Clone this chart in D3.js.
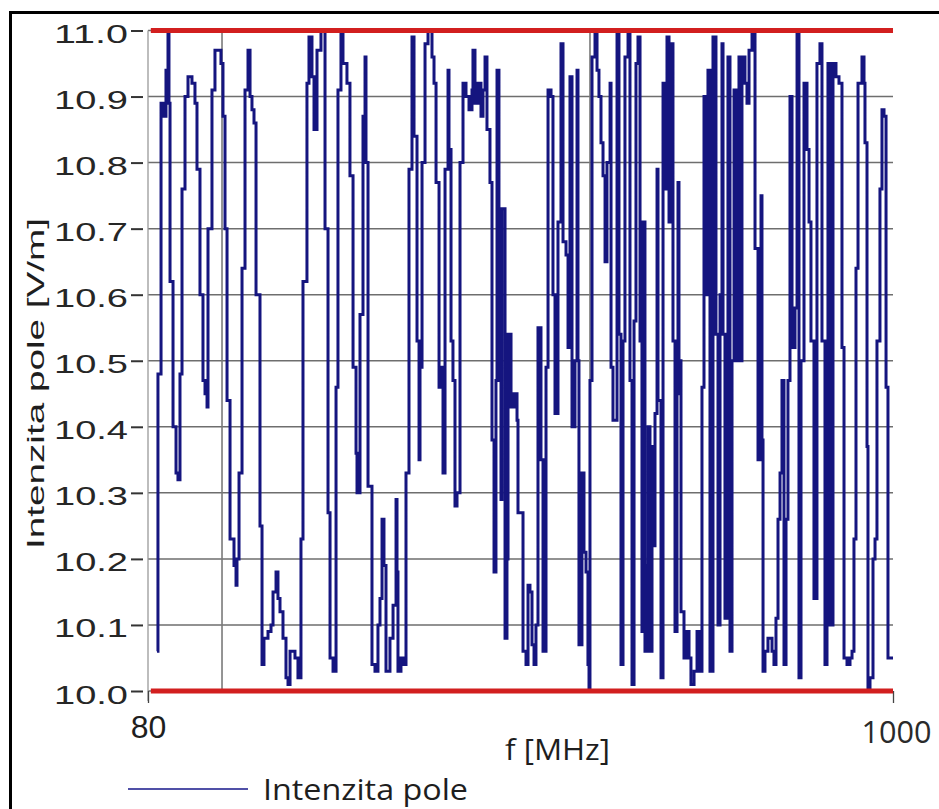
<!DOCTYPE html>
<html><head><meta charset="utf-8">
<script src="https://cdn.jsdelivr.net/npm/d3@7/dist/d3.min.js"></script>
<style>body{margin:0;background:#fff}svg{display:block}</style>
</head><body>
<svg id="c" width="939" height="809"></svg>
<script>
// frequency [MHz]
const freqs = [
91.1,92.3,96.1,99.8,102.2,104.7,105.9,107.2,110.9,114.6,117.0,119.5,122.0,125.7,129.4,134.3,138.0,140.5,144.2,147.9,
150.4,152.9,154.1,159.0,162.7,170.1,172.6,175.1,177.6,181.3,186.2,188.7,189.9,192.4,196.1,199.8,203.5,206.0,208.4,210.9,
213.4,218.3,220.8,223.2,228.2,231.9,234.4,238.1,240.5,243.0,246.7,250.4,252.9,255.4,261.5,265.2,268.9,271.4,276.3,278.8,
282.5,285.0,288.7,293.6,298.6,302.3,304.8,308.5,312.2,314.6,318.3,320.8,325.7,329.4,333.2,336.9,338.1,341.8,345.5,348.0,
349.2,351.7,356.6,360.3,364.0,366.5,369.0,371.4,373.9,378.8,382.6,386.3,387.5,388.7,392.4,394.9,398.6,402.3,406.0,408.5,
412.2,414.7,415.9,418.4,422.1,425.8,430.7,433.2,435.7,439.4,441.8,444.3,446.8,450.5,451.7,454.2,456.6,459.1,461.6,465.3,
469.0,472.7,476.4,480.1,481.3,483.8,487.5,491.2,493.7,496.2,498.6,502.3,504.8,507.3,509.7,511.0,513.4,515.9,517.1,520.9,
523.3,524.6,528.3,532.0,535.7,536.9,543.1,546.8,549.3,551.7,554.2,556.7,559.1,561.6,565.3,567.8,571.5,574.0,577.7,580.1,
582.6,586.3,590.0,592.5,596.2,598.7,601.1,603.6,607.3,609.8,611.0,612.2,615.9,618.4,620.9,623.3,624.6,625.8,628.3,632.0,
634.5,636.9,639.4,641.9,644.4,646.8,650.6,651.8,654.2,659.2,661.6,664.1,666.6,669.0,672.8,675.2,677.7,680.2,682.6,685.1,
687.6,690.0,691.3,693.7,696.2,697.5,699.9,702.4,704.9,706.1,708.6,709.8,713.5,716.0,718.4,720.9,723.4,725.9,728.3,730.8,
733.3,734.5,735.7,738.2,741.9,745.6,748.1,750.5,754.3,758.0,760.4,764.1,766.6,769.1,771.5,774.0,777.7,781.4,783.9,786.4,
788.8,790.1,792.5,795.0,796.2,798.7,801.2,803.7,807.4,809.8,812.3,813.5,817.2,819.7,822.2,825.9,829.6,833.3,835.8,837.0,
838.2,839.5,841.9,845.6,850.6,853.0,855.5,858.0,860.5,862.9,865.4,867.9,870.3,872.8,875.3,879.0,881.5,883.9,886.4,890.1,
893.8,896.3,898.7,902.4,906.1,909.8,912.3,916.0,918.5,919.7,922.2,925.9,929.6,933.3,937.0,939.5,943.2,946.9,949.4,951.8,
954.3,956.8,961.7,964.2,965.4,967.9,969.1,971.6,975.3,977.8,980.2,983.9,986.4,988.9,991.4,993.8,1000.0
];
// field strength [V/m]
const values = [
10.06,10.48,10.89,10.87,10.94,11.00,10.89,10.62,10.40,10.33,10.32,10.48,10.76,10.90,10.93,10.92,10.89,10.79,10.60,10.47,
10.45,10.43,10.70,10.91,10.97,10.95,10.87,10.70,10.44,10.23,10.19,10.16,10.20,10.33,10.64,10.91,10.97,10.90,10.88,10.86,
10.60,10.25,10.04,10.08,10.09,10.10,10.15,10.18,10.14,10.12,10.08,10.02,10.01,10.06,10.05,10.02,10.23,10.62,10.92,10.99,
10.93,10.85,10.97,11.00,10.70,10.27,10.05,10.03,10.46,10.91,11.00,10.95,10.92,10.78,10.49,10.36,10.30,10.57,10.87,10.96,
10.80,10.31,10.04,10.03,10.10,10.14,10.26,10.19,10.03,10.08,10.13,10.29,10.18,10.03,10.05,10.04,10.33,10.79,10.99,10.84,
10.53,10.35,10.49,10.80,10.98,11.00,10.96,10.92,10.77,10.46,10.49,10.33,10.79,10.94,10.82,10.53,10.47,10.28,10.30,10.80,
10.92,10.90,10.88,10.91,10.97,10.89,10.92,10.87,10.91,10.96,10.85,10.77,10.38,10.18,10.47,10.94,10.47,10.29,10.73,10.08,
10.20,10.54,10.43,10.45,10.41,10.27,10.06,10.04,10.16,10.15,10.07,10.04,10.10,10.55,10.35,10.06,10.49,10.91,10.90,10.60,
10.42,10.71,10.98,10.68,10.66,10.52,10.93,10.40,10.50,10.94,10.50,10.07,10.33,10.21,10.18,10.04,10.00,10.47,10.96,11.00,
10.94,10.90,10.83,10.78,10.65,10.80,10.92,10.49,10.41,11.00,10.54,10.04,10.53,10.96,11.00,10.47,10.01,10.56,10.95,10.99,
10.53,10.09,10.71,10.06,10.19,10.40,10.06,10.37,10.22,10.42,10.79,10.44,10.02,10.92,10.76,10.99,10.71,10.98,10.53,10.09,
10.45,10.77,10.50,10.12,10.05,10.09,10.05,10.01,10.03,10.09,10.03,10.46,10.90,10.60,10.94,10.03,10.99,10.54,10.10,10.60,
10.98,10.54,10.11,10.54,10.96,10.06,10.50,10.91,10.50,10.96,10.50,10.96,10.92,10.89,10.97,11.00,10.67,10.35,10.55,10.75,
10.38,10.03,10.06,10.08,10.06,10.04,10.11,10.26,10.33,10.47,10.04,10.26,10.47,10.90,10.52,10.58,11.00,10.02,10.50,10.92,
10.82,10.71,10.53,10.14,10.95,10.98,10.53,10.04,10.50,10.95,10.10,10.95,10.93,10.92,10.52,10.05,10.04,10.05,10.06,10.23,
10.64,10.92,10.96,10.92,10.83,10.37,10.00,10.02,10.20,10.23,10.53,10.76,10.88,10.87,10.46,10.05,10.05
];
const yTicks = [10.0,10.1,10.2,10.3,10.4,10.5,10.6,10.7,10.8,10.9,11.0];
const yTickLabels = ["10.0","10.1","10.2","10.3","10.4","10.5","10.6","10.7","10.8","10.9","11.0"];
const xTicks = [80, 1000];
const xTickLabels = ["80", "1000"];
const xGridValues = [171.4, 625.8];
const limitValues = [10.0, 11.0];
const seriesName = "Intenzita pole";
const xTitle = "f [MHz]";
const yTitle = "Intenzita pole  [V/m]";

const data = freqs.map((f, i) => ({f, v: values[i]}));

const svg = d3.select('#c');
const x = d3.scaleLinear().domain([80, 1000]).range([148, 893]);
const y = d3.scaleLinear().domain([10, 11]).range([691, 30.5]);

// outer frame
svg.append('path').attr('d', 'M10.5,809 V12.5 H939')
  .attr('fill', 'none').attr('stroke', '#000').attr('stroke-width', 3);

// horizontal grid
svg.append('g').selectAll('line').data(yTicks).join('line')
  .attr('x1', x(80)).attr('x2', x(1000))
  .attr('y1', d => y(d)).attr('y2', d => y(d))
  .attr('stroke', '#6e6e6e').attr('stroke-width', 1.5);
// vertical grid
svg.append('g').selectAll('line').data(xGridValues).join('line')
  .attr('x1', d => x(d)).attr('x2', d => x(d))
  .attr('y1', y(11)).attr('y2', y(10))
  .attr('stroke', '#7a7a7a').attr('stroke-width', 1.6);

// y axis line
svg.append('line').attr('x1', x(80)).attr('x2', x(80)).attr('y1', y(11)).attr('y2', y(10) + 10)
  .attr('stroke', '#9a9a9a').attr('stroke-width', 1.3);

// y axis (ticks + labels)
const yAxis = d3.axisLeft(y).tickValues(yTicks).tickFormat((d, i) => yTickLabels[i]).tickSize(0);
const gy = svg.append('g').attr('transform', `translate(${x(80)},0)`).call(yAxis);
gy.select('.domain').remove();
gy.selectAll('.tick').append('line')
  .attr('x1', -17).attr('x2', -5).attr('y1', 0).attr('y2', 0)
  .attr('stroke', '#333').attr('stroke-width', 2);
gy.selectAll('.tick text')
  .attr('x', -94).attr('dy', null).attr('y', 12)
  .attr('text-anchor', 'start')
  .attr('textLength', 74).attr('lengthAdjust', 'spacingAndGlyphs')
  .style('font-family', '"Liberation Sans", Arial, sans-serif')
  .style('font-size', '26px').attr('fill', '#262626');

// x axis ticks + labels
const xAxis = d3.axisBottom(x).tickValues(xTicks).tickFormat((d, i) => xTickLabels[i]).tickSize(12);
const gx = svg.append('g').attr('transform', `translate(0,${y(10)})`).call(xAxis);
gx.select('.domain').remove();
gx.selectAll('.tick line').attr('stroke', '#444').attr('stroke-width', 1.3);
gx.selectAll('.tick text')
  .attr('y', 47).attr('dy', null)
  .style('font-family', '"Liberation Sans", Arial, sans-serif')
  .style('font-size', '32px').attr('fill', '#1e1e1e');
gx.selectAll('.tick').filter(d => d === 1000).select('text')
  .attr('x', 3).attr('y', 52).attr('textLength', 70).attr('lengthAdjust', 'spacingAndGlyphs')
  .style('font-family', '"Open Sans", sans-serif').style('font-size', '31px').attr('fill', '#2a2a2a');

// data line
svg.append('path').datum(data)
  .attr('fill', 'none').attr('stroke', '#15157f').attr('stroke-width', 3)
  .attr('d', d3.line().x(d => x(d.f)).y(d => y(d.v)).curve(d3.curveStepAfter));

// limit lines
svg.append('g').selectAll('line').data(limitValues).join('line')
  .attr('x1', x(83.5)).attr('x2', x(1000))
  .attr('y1', d => y(d)).attr('y2', d => y(d))
  .attr('stroke', '#d21f1f').attr('stroke-width', 5);

// axis titles
svg.append('text').text(xTitle)
  .attr('x', 505).attr('y', 760).attr('textLength', 105).attr('lengthAdjust', 'spacingAndGlyphs')
  .style('font-family', '"Open Sans", sans-serif').style('font-size', '30px').attr('fill', '#1e1e1e');
svg.append('text').text(yTitle)
  .attr('transform', 'translate(44,549) rotate(-90)')
  .attr('textLength', 331).attr('lengthAdjust', 'spacingAndGlyphs')
  .style('font-family', '"Liberation Sans", Arial, sans-serif').style('font-size', '24px').attr('fill', '#1e1e1e');

// legend
svg.append('line').attr('x1', 128).attr('x2', 248).attr('y1', 789).attr('y2', 789)
  .attr('stroke', '#16168a').attr('stroke-width', 1.6);
svg.append('text').text(seriesName)
  .attr('x', 263).attr('y', 800).attr('textLength', 205).attr('lengthAdjust', 'spacingAndGlyphs')
  .style('font-family', '"Open Sans", sans-serif').style('font-size', '30px').attr('fill', '#1e1e1e');
</script>
</body></html>
